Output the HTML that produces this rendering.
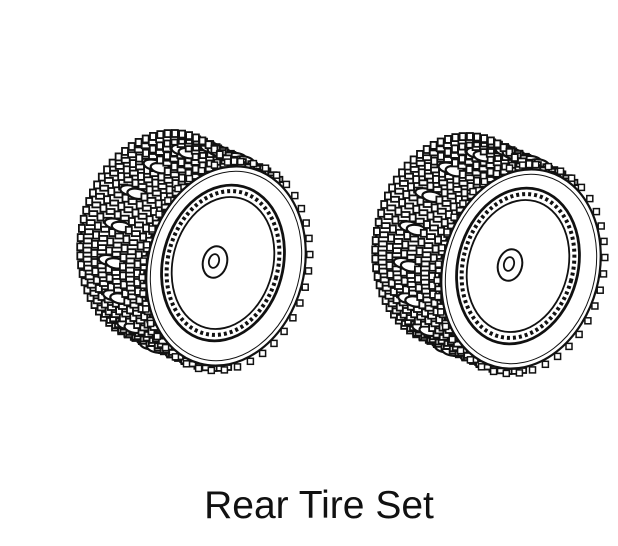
<!DOCTYPE html>
<html><head><meta charset="utf-8"><style>
html,body{margin:0;padding:0;background:#fff;width:618px;height:546px;overflow:hidden}
svg{position:absolute;left:0;top:0}
.t{position:absolute;left:0;width:638px;top:484px;text-align:center;font:39px "Liberation Sans",Arial,sans-serif;color:#111}
</style></head><body>
<svg id="s" width="618" height="546" viewBox="0 0 618 546"></svg>
<div class="t">Rear Tire Set</div>
<script>
(function(){
var NS="http://www.w3.org/2000/svg";
var s=document.getElementById('s');
function el(n,a,p){var e=document.createElementNS(NS,n);for(var k in a)e.setAttribute(k,a[k]);(p||s).appendChild(e);return e;}
function tire(dx,dy){
 var g=el('g',{transform:'translate('+dx+','+dy+')',fill:'none',stroke:'#111','stroke-width':'1.3'});
 var cx=226,cy=266,rot=15*Math.PI/180;
 var bx=cx-64,by=cy-30;
 function pt(ox,oy,rx,ry,a){var x=rx*Math.cos(a),y=ry*Math.sin(a);return [ox+x*Math.cos(rot)-y*Math.sin(rot),oy+x*Math.sin(rot)+y*Math.cos(rot)];}
 var d='';
 var a0=Math.PI/2-0.35,a1=3*Math.PI/2+0.45;
 for(var i=0;i<=50;i++){var a=a0+i*(a1-a0)/50;var p=pt(bx,by,80,104,a);d+=(i?'L':'M')+p[0].toFixed(1)+' '+p[1].toFixed(1);}
 for(var i=50;i>=0;i--){var a=a0+i*(a1-a0)/50;var p=pt(cx,cy,80,104,a);d+='L'+p[0].toFixed(1)+' '+p[1].toFixed(1);}
 el('path',{d:d+'Z',fill:'#fff',stroke:'#111','stroke-width':'2.4'},g);
 var N=44;
 for(var i=0;i<=N;i++){
  var a=a0+i*(a1-a0)/N;
  for(var k=0;k<10;k++){
   var f=k/9;
   var p1=pt(bx,by,80,104,a),p2=pt(cx,cy,80,104,a);
   var x=p1[0]+(p2[0]-p1[0])*f,y=p1[1]+(p2[1]-p1[1])*f;
   var w=(k%2?8:6),h=(k%2?5:7);
   el('rect',{x:(x-w/2).toFixed(1),y:(y-h/2).toFixed(1),width:w,height:h,fill:'#fff','stroke-width':'1.8'},g);
   if((k==4||k==5)&&i%4==2&&Math.cos(a)<0.3)el('ellipse',{cx:x.toFixed(1),cy:y.toFixed(1),rx:10,ry:5,fill:'#fff','stroke-width':'2.2',transform:'rotate(10 '+x.toFixed(1)+' '+y.toFixed(1)+')'},g);
  }
 }
 for(var i=0;i<40;i++){var a=i*Math.PI*2/40;var p=pt(cx,cy,82,106,a);
  el('rect',{x:(p[0]-3).toFixed(1),y:(p[1]-3).toFixed(1),width:6,height:6,fill:'#fff','stroke-width':'1.5'},g);}
 el('ellipse',{cx:cx,cy:cy,rx:78,ry:101,transform:'rotate(15 '+cx+' '+cy+')',fill:'#fff','stroke-width':'2.2'},g);
 el('ellipse',{cx:cx,cy:cy,rx:74,ry:96,transform:'rotate(15 '+cx+' '+cy+')','stroke-width':'1'},g);
 var ix=cx-3,iy=cy-3;
 el('ellipse',{cx:ix,cy:iy,rx:60,ry:79,transform:'rotate(15 '+ix+' '+iy+')','stroke-width':'2.8'},g);
 el('ellipse',{cx:ix,cy:iy,rx:55,ry:73,transform:'rotate(15 '+ix+' '+iy+')','stroke-width':'4','stroke-dasharray':'3 3'},g);
 el('ellipse',{cx:ix,cy:iy,rx:50,ry:67,transform:'rotate(15 '+ix+' '+iy+')','stroke-width':'1.8'},g);
 el('ellipse',{cx:215,cy:262,rx:12,ry:16,transform:'rotate(15 215 262)','stroke-width':'2'},g);
 el('ellipse',{cx:214,cy:261,rx:5,ry:7,transform:'rotate(15 214 261)','stroke-width':'1.8'},g);
}
tire(0,0);tire(295,3);
})();
</script>
</body></html>
